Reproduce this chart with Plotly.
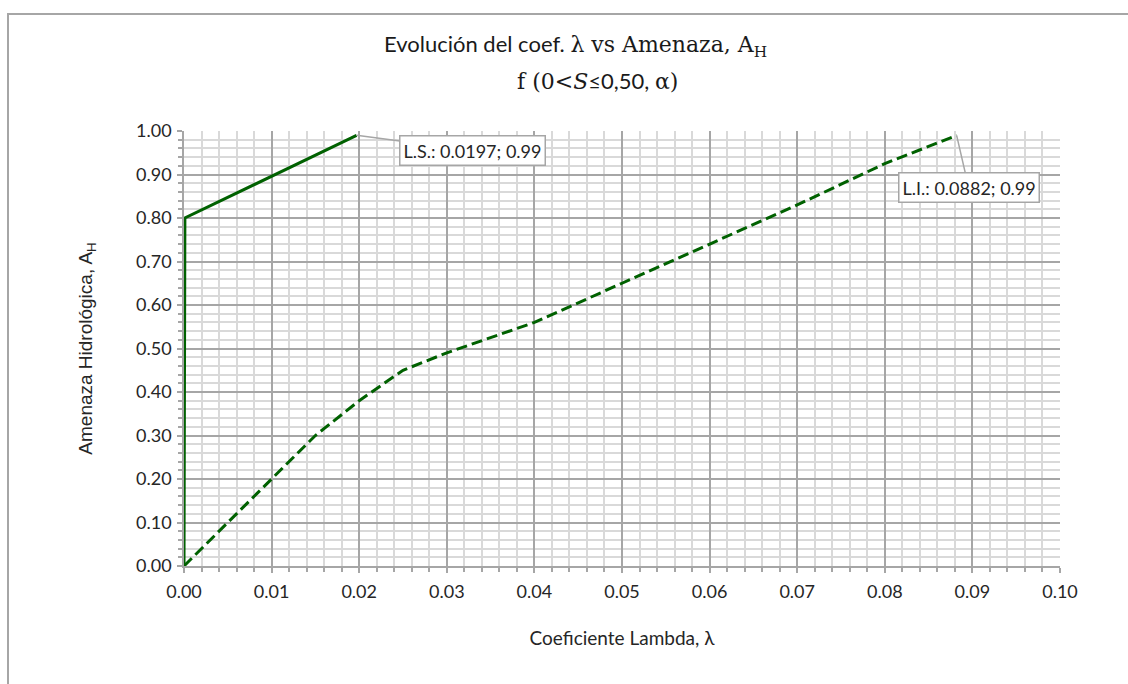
import plotly.graph_objects as go

# ---- data ----
ls_lambda = [0.0, 0.0001, 0.0197]
ls_ah = [0.0, 0.80, 0.99]

li_lambda = [0.0, 0.005, 0.010, 0.015, 0.020, 0.025, 0.030, 0.040, 0.050, 0.060, 0.070, 0.080, 0.0882]
li_ah = [0.0, 0.10, 0.20, 0.30, 0.38, 0.45, 0.49, 0.56, 0.65, 0.74, 0.83, 0.925, 0.99]

ls_label = "L.S.: 0.0197; 0.99"
li_label = "L.I.: 0.0882; 0.99"

x_ticks = [0.00, 0.01, 0.02, 0.03, 0.04, 0.05, 0.06, 0.07, 0.08, 0.09, 0.10]
y_ticks = [0.00, 0.10, 0.20, 0.30, 0.40, 0.50, 0.60, 0.70, 0.80, 0.90, 1.00]

# ---- layout geometry ----
W, H = 1128, 684
ML, MR, MT, MB = 184, 68, 131, 118
PW, PH = W - ML - MR, H - MT - MB

def px_x(p):
    return (p - ML) / PW

def px_y(p):
    return (H - MB - p) / PH

GREEN = "#006100"
SANS = "Lato, 'Open Sans', sans-serif"
SERIF = "'DejaVu Serif', 'Liberation Serif', serif"
TXT = "#262626"

fig = go.Figure()
fig.add_trace(go.Scatter(x=ls_lambda, y=ls_ah, mode="lines", name="L.S.",
                         line=dict(color=GREEN, width=3)))
fig.add_trace(go.Scatter(x=li_lambda, y=li_ah, mode="lines", name="L.I.",
                         line=dict(color=GREEN, width=3, dash="11px,5px")))

axis_common = dict(
    showline=True, linecolor="#a6a6a6", linewidth=1.5,
    showgrid=True, gridcolor="#a6a6a6", gridwidth=1.5,
    ticks="outside", ticklen=5, tickcolor="#a6a6a6", tickwidth=1.5,
    tickfont=dict(family=SANS, size=18, color=TXT),
    zeroline=False, tickformat=".2f",
)

fig.update_xaxes(range=[0, 0.10], tickvals=x_ticks,
                 minor=dict(dtick=0.002, showgrid=True, gridcolor="#d9d9d9", gridwidth=1.5,
                            ticks="outside", ticklen=4, tickcolor="#a6a6a6", tickwidth=1.5),
                 title=dict(text="Coeficiente Lambda, λ",
                            font=dict(family=SANS, size=19, color=TXT), standoff=30),
                 ticklabelstandoff=4,
                 **axis_common)
fig.update_yaxes(range=[0, 1.0], tickvals=y_ticks,
                 minor=dict(dtick=0.02, showgrid=True, gridcolor="#d9d9d9", gridwidth=1.5,
                            ticks="outside", ticklen=4, tickcolor="#a6a6a6", tickwidth=1.5),
                 title=dict(text="Amenaza Hidrológica, A<sub>H</sub>",
                            font=dict(family="'Liberation Sans', Arial, sans-serif", size=19, color=TXT),
                            standoff=38),
                 ticklabelstandoff=2,
                 **axis_common)

# titles
fig.add_annotation(
    xref="paper", yref="paper", x=px_x(575), y=px_y(46), showarrow=False,
    xanchor="center", yanchor="middle",
    text=(f"<span style=\"font-family:{SANS}\">Evolución del coef. </span>"
          f"<span style=\"font-family:{SERIF}\">λ vs Amenaza, A<sub>H</sub></span>"),
    font=dict(size=22, color="#1a1a1a", family=SANS),
)
fig.add_annotation(
    xref="paper", yref="paper", x=px_x(597), y=px_y(80), showarrow=False,
    xanchor="center", yanchor="middle",
    text=(f"<span style=\"font-family:{SERIF}\">f (0&lt;<i>S</i></span>"
          f"<span style=\"font-family:{SANS}\">≤0,50, </span>"
          f"<span style=\"font-family:{SERIF}\">α)</span>"),
    font=dict(size=22, color="#1a1a1a", family=SERIF),
)

# callouts
fig.add_annotation(x=ls_lambda[-1], y=ls_ah[-1], text=ls_label, showarrow=True,
                   arrowhead=0, arrowwidth=1.5, arrowcolor="#a6a6a6", ax=116, ay=15,
                   bgcolor="white", bordercolor="#a6a6a6", borderwidth=1.5, borderpad=3,
                   font=dict(family=SANS, size=18, color=TXT))
fig.add_annotation(x=li_lambda[-1], y=li_ah[-1], text=li_label, showarrow=True,
                   arrowhead=0, arrowwidth=1.5, arrowcolor="#a6a6a6", ax=12, ay=52,
                   bgcolor="white", bordercolor="#a6a6a6", borderwidth=1.5, borderpad=3,
                   font=dict(family=SANS, size=18, color=TXT))

# chart area border (top-left corner visible)
fig.add_shape(type="rect", xref="paper", yref="paper",
              x0=px_x(8), y0=px_y(H + 20), x1=px_x(W + 20), y1=px_y(14),
              line=dict(color="#a6a6a6", width=2), layer="below")

fig.update_layout(
    width=W, height=H, margin=dict(l=ML, r=MR, t=MT, b=MB),
    paper_bgcolor="white", plot_bgcolor="white", showlegend=False,
)

fig.write_html("out.html")
